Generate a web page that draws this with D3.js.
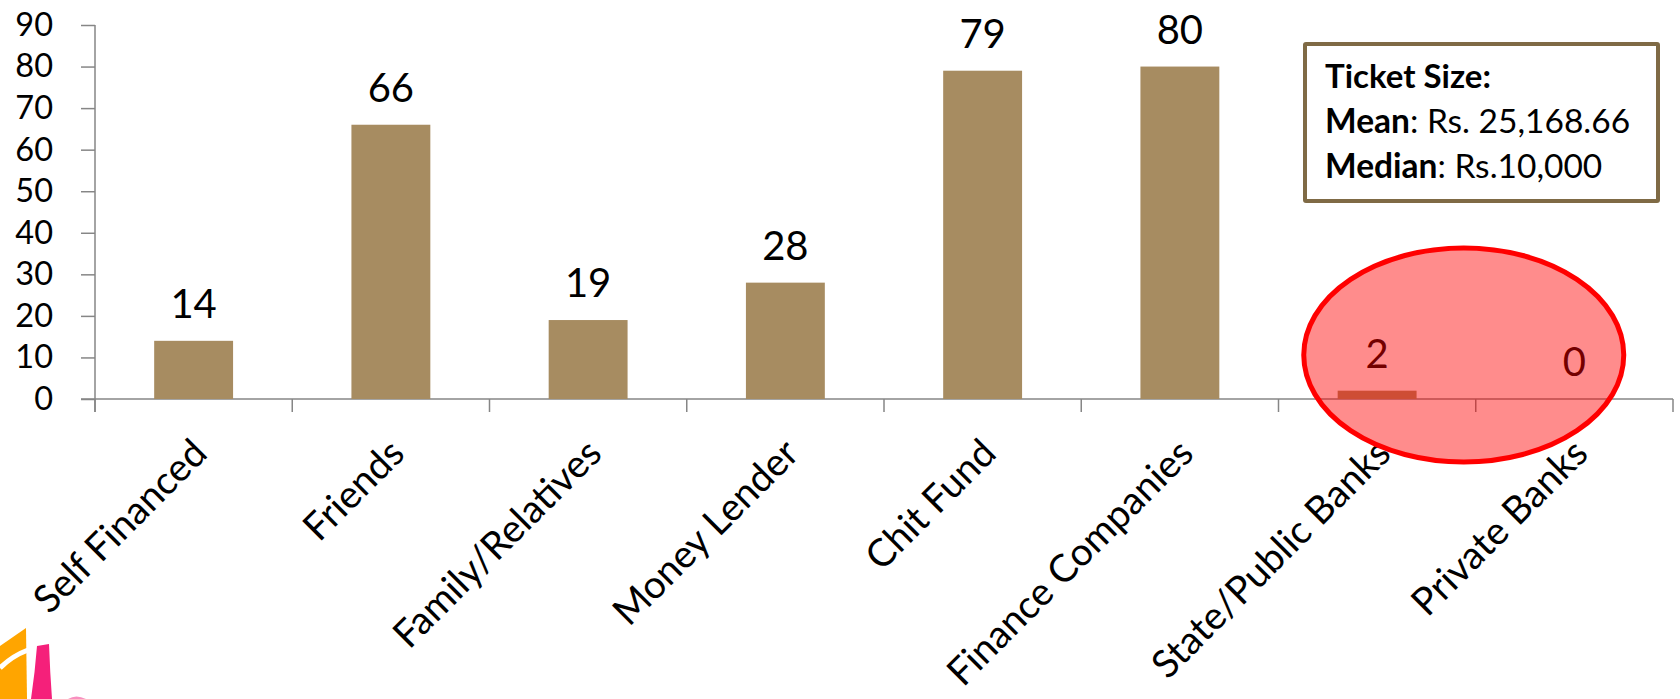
<!DOCTYPE html>
<html>
<head>
<meta charset="utf-8">
<script src="https://cdn.jsdelivr.net/npm/d3@7"></script>
<style>
  html, body { margin: 0; padding: 0; background: #fff; }
  svg { display: block; font-family: Lato, "Open Sans", sans-serif; }
</style>
</head>
<body>
<svg id="chart" width="1680" height="699"></svg>
<script>
const categories = ["Self Financed", "Friends", "Family/Relatives", "Money Lender", "Chit Fund", "Finance Companies", "State/Public Banks", "Private Banks"];
const values = [14, 66, 19, 28, 79, 80, 2, 0];
const yTicks = [0, 10, 20, 30, 40, 50, 60, 70, 80, 90];
const boxTitle = "Ticket Size:";
const boxLabels = ["Mean", "Median"];
const boxValues = [": Rs. 25,168.66", ": Rs.10,000"];
const highlighted = ["State/Public Banks", "Private Banks"];

(function () {
const svg = d3.select("#chart");
const mLeft = 95, mRight = 1673, mTop = 25, mBottom = 399;

const x = d3.scaleBand().domain(categories).range([mLeft, mRight]).paddingInner(0.6).paddingOuter(0.3);
const y = d3.scaleLinear().domain([0, 90]).range([mBottom, mTop]);

const axisColor = "#868686";
const barColor = "#A78C61";

// logo fragments bottom-left
const logo = svg.append("g");
logo.append("path").attr("d", "M0,646 L26,628 L27,699 L0,699 Z").attr("fill", "#FFA500");
logo.append("path").attr("d", "M0,668 Q12,656 28,650").attr("stroke", "#fff").attr("stroke-width", 5).attr("fill", "none");
logo.append("path").attr("d", "M37,646 L49,644 Q50,672 52,699 L31,699 Q35,672 37,646 Z").attr("fill", "#F5207A");
logo.append("path").attr("d", "M68,699 Q76,694 86,699 Z").attr("fill", "#F890C0");

// y axis
const yAxis = d3.axisLeft(y).tickValues(yTicks).tickSize(14).tickPadding(28);
const gy = svg.append("g").attr("transform", `translate(${mLeft},0)`).call(yAxis);
gy.select(".domain").remove();
gy.selectAll(".tick line").attr("stroke", axisColor).attr("stroke-width", 1.5);
gy.selectAll(".tick text").attr("font-size", 32.5).attr("fill", "#000").attr("font-family", "Lato, sans-serif");
svg.append("line").attr("x1", mLeft).attr("x2", mLeft).attr("y1", y(90)).attr("y2", mBottom + 13)
  .attr("stroke", axisColor).attr("stroke-width", 1.5);

// x axis line and boundary ticks
svg.append("line").attr("x1", mLeft - 14).attr("x2", mRight).attr("y1", mBottom).attr("y2", mBottom)
  .attr("stroke", axisColor).attr("stroke-width", 1.5);
const bounds = d3.range(categories.length + 1).map(i => mLeft + i * x.step());
svg.selectAll(".xtick").data(bounds).join("line").attr("class", "xtick")
  .attr("x1", d => d).attr("x2", d => d).attr("y1", mBottom).attr("y2", mBottom + 13)
  .attr("stroke", axisColor).attr("stroke-width", 1.5);

// bars
svg.selectAll(".bar").data(categories).join("rect").attr("class", "bar")
  .attr("x", d => x(d)).attr("width", x.bandwidth())
  .attr("y", (d, i) => y(values[i])).attr("height", (d, i) => mBottom - y(values[i]))
  .attr("fill", barColor);

// value labels
svg.selectAll(".val").data(categories).join("text").attr("class", "val")
  .attr("x", d => x(d) + x.bandwidth() / 2)
  .attr("y", (d, i) => y(values[i]) - 23)
  .attr("text-anchor", "middle").attr("font-size", 40).attr("fill", "#000")
  .text((d, i) => values[i]);

// category labels
svg.selectAll(".cat").data(categories).join("text").attr("class", "cat")
  .attr("transform", d => `translate(${x(d) + x.bandwidth() / 2 - 4},${mBottom + 37}) rotate(-45)`)
  .attr("text-anchor", "end").attr("dy", "0.72em")
  .attr("font-size", 38.5).attr("fill", "#000")
  .text(d => d);

// annotation box
const box = svg.append("g");
box.append("rect").attr("x", 1305).attr("y", 44).attr("width", 353).attr("height", 157)
  .attr("fill", "#fff").attr("stroke", "#7F6A45").attr("stroke-width", 4).attr("rx", 1);
box.append("text").attr("x", 1325).attr("y", 88).attr("font-size", 33).attr("font-weight", "bold").text(boxTitle);
boxLabels.forEach((lab, i) => {
  const t = box.append("text").attr("x", 1325).attr("y", 133 + i * 44.5).attr("font-size", 33.5);
  t.append("tspan").attr("font-weight", "bold").text(lab);
  t.append("tspan").text(boxValues[i]);
});

// highlight ellipse over the last two categories
const cx = (x(highlighted[0]) + x(highlighted[1]) + x.bandwidth()) / 2;
svg.append("ellipse").attr("cx", cx - 12).attr("cy", 355).attr("rx", 160).attr("ry", 107)
  .attr("fill", "rgba(255,0,0,0.45)").attr("stroke", "#FF0000").attr("stroke-width", 5);
})();
</script>
</body>
</html>
